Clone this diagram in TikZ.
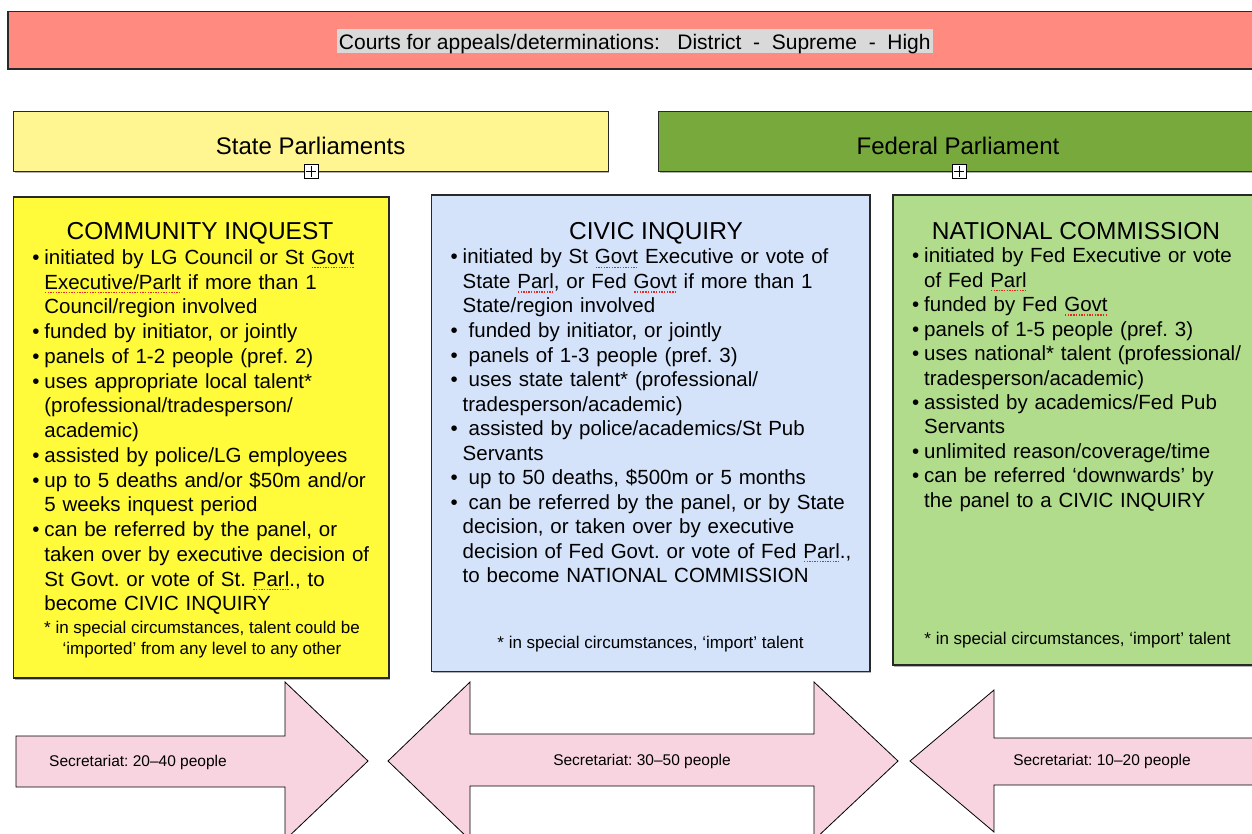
\documentclass[tikz,border=0pt]{standalone}
\usepackage{fontspec}
\setmainfont{Liberation Sans}
\usetikzlibrary{shadows}
\definecolor{courtred}{RGB}{255,138,128}
\definecolor{hlgray}{RGB}{217,217,217}
\definecolor{stateyel}{RGB}{255,245,145}
\definecolor{fedgreen}{RGB}{119,169,60}
\definecolor{ciyel}{RGB}{255,250,58}
\definecolor{civblue}{RGB}{212,227,250}
\definecolor{natgreen}{RGB}{177,220,140}
\definecolor{arrpink}{RGB}{247,212,223}
\definecolor{sqred}{RGB}{235,40,30}
\definecolor{edge}{RGB}{40,40,40}
\newlength\bulw
\setlength\bulw{12pt}
\newcommand\itm[2][0pt]{\hangindent=\bulw\hangafter=1\noindent\makebox[\bulw][l]{•}\hspace*{#1}#2\par}
\newcommand\spk[1]{\setbox0\hbox{#1}\rlap{\raisebox{-4pt}[0pt][0pt]{\color{sqred}\hbox to \wd0{\xleaders\hbox to 2.6pt{\hss\rule{1.4pt}{1.2pt}\hss}\hfill}}}#1}
\AtBeginDocument{\frenchspacing}
\tikzset{
  box/.style={draw=edge, line width=1.3pt, rectangle, inner sep=0pt, outer sep=0pt,
    drop shadow={shadow xshift=1pt, shadow yshift=-1.5pt, fill=black, opacity=0.3}},
  body/.style={anchor=base west, inner sep=0pt, align=left},
  ttl/.style={anchor=base, inner sep=0pt, font=\fontsize{24.5}{28}\selectfont},
  foot/.style={anchor=base, inner sep=0pt, align=center, font=\fontsize{17}{20.4}\selectfont},
  parl/.style={anchor=base, inner sep=0pt, font=\fontsize{24}{28}\selectfont},
  plusbox/.style={draw=black, fill=white, line width=0.8pt, minimum size=14pt, inner sep=0pt},
  arrowshape/.style={fill=arrpink, draw=black, line width=0.8pt, line join=miter},
  alabel/.style={anchor=base, inner sep=0pt, font=\fontsize{15.5}{18}\selectfont}
}
\begin{document}
\begin{tikzpicture}[x=1pt, y=-1pt]
\useasboundingbox (0,0) rectangle (1252,834);
\clip (0,0) rectangle (1252,834);
\fill[white] (0,0) rectangle (1252,834);

% top courts bar
\node[box, fill=courtred, minimum width=1254pt, minimum height=57.3pt] (courts) at (635,40.35) {};
\node[fill=hlgray, minimum width=595.6pt, minimum height=23.4pt, inner sep=0pt] (hl) at (634.8,41) {};
\node[anchor=base, inner sep=0pt, font=\fontsize{21}{25}\selectfont] (courtstxt) at (634.8,49.3)
  {Courts for appeals/determinations:\ \ \ District\ \ -\ \ Supreme\ \ -\ \ High};

% parliaments
\node[box, fill=stateyel, minimum width=594.8pt, minimum height=60pt] (state) at (311,141.7) {};
\node[parl] (statetxt) at (310.6,155) {State Parliaments};
\node[box, fill=fedgreen, minimum width=603.3pt, minimum height=60pt] (fed) at (960.35,141.7) {};
\node[parl] (fedtxt) at (958,155) {Federal Parliament};
\node[plusbox] (p1) at (311,171.7) {};
\draw[line width=0.8pt] ([yshift=-2pt]p1.north) -- ([yshift=2pt]p1.south);
\draw[line width=0.8pt] ([xshift=2pt]p1.west) -- ([xshift=-2pt]p1.east);
\node[plusbox] (p2) at (959,171.7) {};
\draw[line width=0.8pt] ([yshift=-2pt]p2.north) -- ([yshift=2pt]p2.south);
\draw[line width=0.8pt] ([xshift=2pt]p2.west) -- ([xshift=-2pt]p2.east);

% community inquest
\node[box, fill=ciyel, minimum width=375.5pt, minimum height=481pt] (ci) at (201.25,437.5) {};
\node[ttl] (cititle) at (200,240) {COMMUNITY INQUEST};
\node[body, text width=355pt, font=\fontsize{20.5}{24.75}\selectfont] (citxt) at (32.2,264.5) {%
\itm{initiated by LG Council or St \spk{Govt}\newline \spk{Executive/Parlt} if more than 1\newline Council/region involved}%
\itm{funded by initiator, or jointly}%
\itm{panels of 1-2 people (pref. 2)}%
\itm{uses appropriate local talent*\newline (professional/tradesperson/\newline academic)}%
\itm{assisted by police/LG employees}%
\itm{up to 5 deaths and/or \$50m and/or\newline 5 weeks inquest period}%
\itm{can be referred by the panel, or\newline taken over by executive decision of\newline St Govt. or vote of St. \spk{Parl}., to\newline become CIVIC INQUIRY}};
\node[foot] (cifoot) at (202,654) {* in special circumstances, talent could be\\‘imported’ from any level to any other};

% civic inquiry
\node[box, fill=civblue, minimum width=438.3pt, minimum height=476.7pt] (civ) at (650.85,433.35) {};
\node[ttl] (civtitle) at (656,240) {CIVIC INQUIRY};
\node[body, text width=410pt, font=\fontsize{20.5}{24.5}\selectfont] (civtxt) at (450.5,264) {%
\itm{initiated by St \spk{Govt} Executive or vote of\newline State \spk{Parl}, or Fed \spk{Govt} if more than 1\newline State/region involved}%
\itm[6pt]{funded by initiator, or jointly}%
\itm[6pt]{panels of 1-3 people (pref. 3)}%
\itm[6pt]{uses state talent* (professional/\newline tradesperson/academic)}%
\itm[6pt]{assisted by police/academics/St Pub\newline Servants}%
\itm[6pt]{up to 50 deaths, \$500m or 5 months}%
\itm[6pt]{can be referred by the panel, or by State\newline decision, or taken over by executive\newline decision of Fed Govt. or vote of Fed \spk{Parl}.,\newline to become NATIONAL COMMISSION}};
\node[foot] (civfoot) at (650.5,648) {* in special circumstances, ‘import’ talent};

% national commission
\node[box, fill=natgreen, minimum width=369pt, minimum height=470pt] (nat) at (1077.5,430) {};
\node[ttl] (nattitle) at (1076,239.3) {NATIONAL COMMISSION};
\node[body, text width=338pt, font=\fontsize{20.5}{24.46}\selectfont] (nattxt) at (912,262.7) {%
\itm{initiated by Fed Executive or vote\newline of Fed \spk{Parl}}%
\itm{funded by Fed \spk{Govt}}%
\itm{panels of 1-5 people (pref. 3)}%
\itm{uses national* talent (professional/\newline tradesperson/academic)}%
\itm{assisted by academics/Fed Pub\newline Servants}%
\itm{unlimited reason/coverage/time}%
\itm{can be referred ‘downwards’ by\newline the panel to a CIVIC INQUIRY}};
\node[foot] (natfoot) at (1077.5,644) {* in special circumstances, ‘import’ talent};

% secretariat arrows
\draw[arrowshape] (16,736) -- (285,736) -- (285,682) -- (368,761) -- (285,840) -- (285,787) -- (16,787) -- cycle;
\draw[arrowshape] (388,761) -- (470,682) -- (470,734) -- (814,734) -- (814,682) -- (898,761) -- (814,840) -- (814,786) -- (470,786) -- (470,840) -- cycle;
\draw[arrowshape] (1270,738) -- (994,738) -- (994,690) -- (910,761) -- (994,832) -- (994,785) -- (1270,785) -- cycle;
\node[alabel] (sec1) at (138,766) {Secretariat: 20–40 people};
\node[alabel] (sec2) at (642,765) {Secretariat: 30–50 people};
\node[alabel] (sec3) at (1102,765) {Secretariat: 10–20 people};
\end{tikzpicture}
\end{document}
